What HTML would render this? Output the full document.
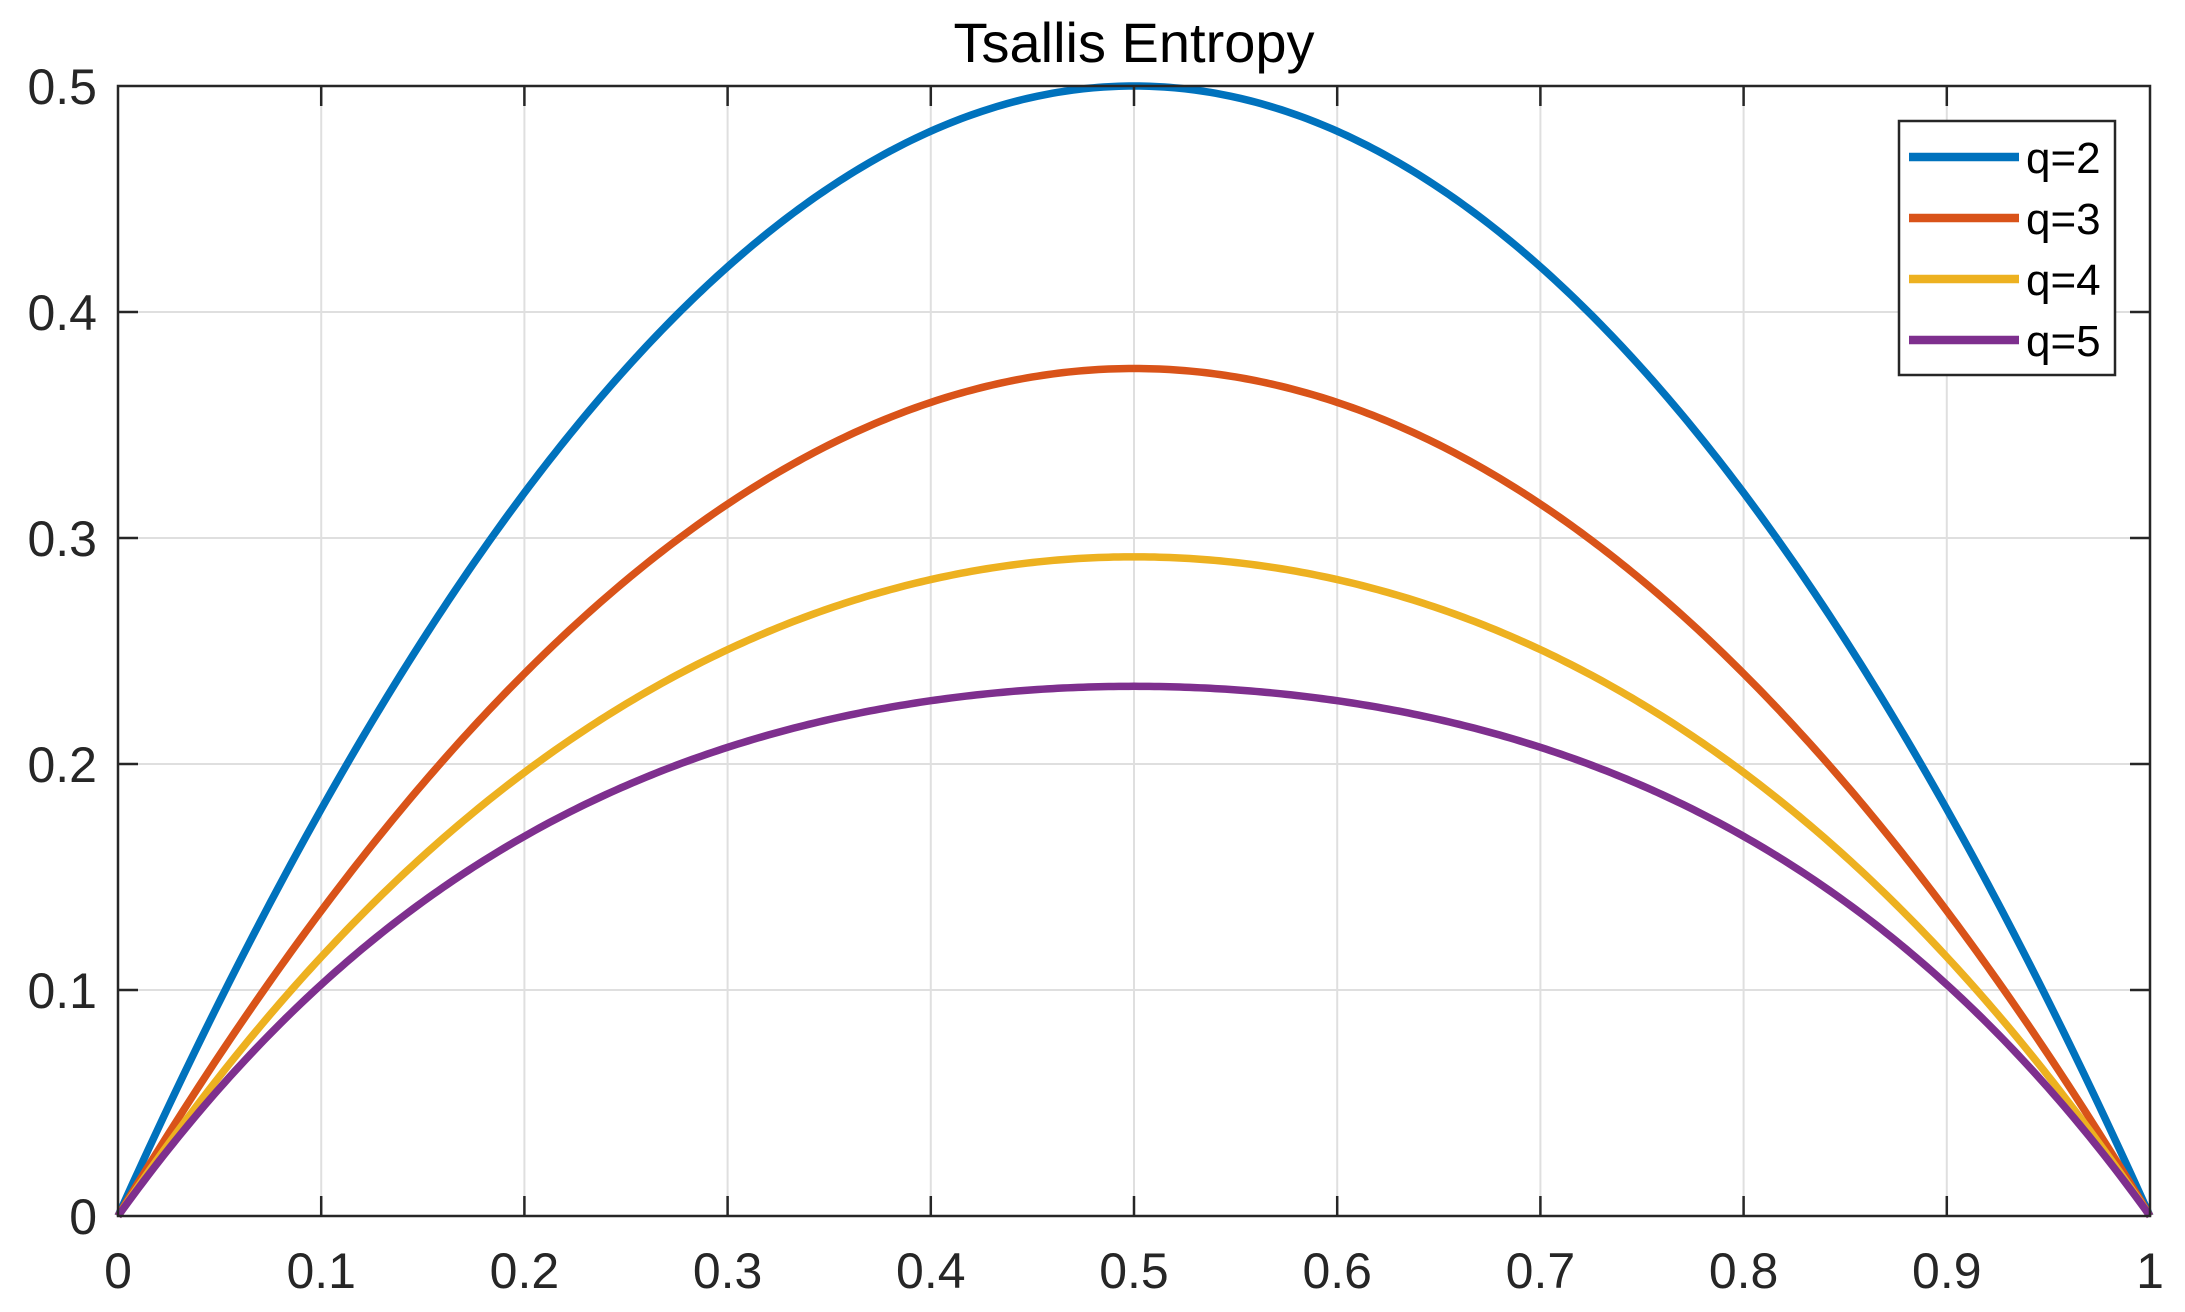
<!DOCTYPE html>
<html><head><meta charset="utf-8"><style>
html,body{margin:0;padding:0;background:#fff;}
svg{display:block;font-family:"Liberation Sans",Arial,sans-serif;}
</style></head><body>
<svg id="s" width="2185" height="1312" viewBox="0 0 2185 1312" xmlns="http://www.w3.org/2000/svg">
<rect width="2185" height="1312" fill="#fff"/>
<g id="grid" stroke="#dfdfdf" stroke-width="2"></g>
<g id="curves" fill="none" stroke-width="7.5" stroke-linejoin="round"></g>
<rect x="118" y="86" width="2032" height="1130" fill="none" stroke="#262626" stroke-width="2.5"/>
<g id="ticks" stroke="#262626" stroke-width="2.5"></g>
<g id="labels" fill="#262626" font-size="50"></g>
<text x="1134" y="62" text-anchor="middle" font-size="56" fill="#000">Tsallis Entropy</text>
<rect x="1899" y="121" width="216" height="254" fill="#fff" stroke="#262626" stroke-width="2.5"/>
<g stroke-width="8.5">
<line x1="1909" y1="157" x2="2019" y2="157" stroke="#0072BD"/>
<line x1="1909" y1="218" x2="2019" y2="218" stroke="#D95319"/>
<line x1="1909" y1="279" x2="2019" y2="279" stroke="#EDB120"/>
<line x1="1909" y1="340" x2="2019" y2="340" stroke="#7E2F8E"/>
</g>
<g font-size="44" fill="#000">
<text x="2026" y="173">q=2</text>
<text x="2026" y="234">q=3</text>
<text x="2026" y="295">q=4</text>
<text x="2026" y="356">q=5</text>
</g>
</svg>
<script>
var X0=118,X1=2150,Y0=1216,Y1=86;
function px(v){return X0+(X1-X0)*v;}
function py(v){return Y0-(Y0-Y1)*v/0.5;}
var ns="http://www.w3.org/2000/svg";
function el(t,a,p,txt){var e=document.createElementNS(ns,t);for(var k in a)e.setAttribute(k,a[k]);if(txt!=null)e.textContent=txt;document.getElementById(p).appendChild(e);}
for(var i=1;i<10;i++){var x=px(i/10);el('line',{x1:x,y1:Y1,x2:x,y2:Y0},'grid');el('line',{x1:x,y1:Y0,x2:x,y2:Y0-20},'ticks');el('line',{x1:x,y1:Y1,x2:x,y2:Y1+20},'ticks');}
for(var i=1;i<5;i++){var y=py(i/10);el('line',{x1:X0,y1:y,x2:X1,y2:y},'grid');el('line',{x1:X0,y1:y,x2:X0+20,y2:y},'ticks');el('line',{x1:X1,y1:y,x2:X1-20,y2:y},'ticks');}
var xl=['0','0.1','0.2','0.3','0.4','0.5','0.6','0.7','0.8','0.9','1'];
for(var i=0;i<=10;i++)el('text',{x:px(i/10),y:1288,'text-anchor':'middle'},'labels',xl[i]);
var yl=['0','0.1','0.2','0.3','0.4','0.5'];
for(var i=0;i<=5;i++)el('text',{x:97,y:py(i/10)+18,'text-anchor':'end'},'labels',yl[i]);
var cols=['#0072BD','#D95319','#EDB120','#7E2F8E'];
for(var q=2;q<=5;q++){var d='';for(var k=0;k<=400;k++){var p=k/400;var s=(1-Math.pow(p,q)-Math.pow(1-p,q))/(q-1);d+=(k?'L':'M')+px(p).toFixed(2)+' '+py(s).toFixed(2);}
el('path',{d:d,stroke:cols[q-2]},'curves');}
</script>
</body></html>
